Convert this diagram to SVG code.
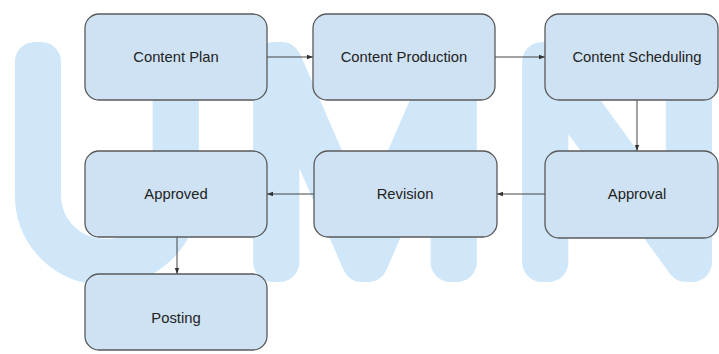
<svg xmlns="http://www.w3.org/2000/svg" width="719" height="354" viewBox="0 0 719 354">
  <defs>
    <marker id="arrow" viewBox="0 0 6 6" refX="6" refY="3" markerWidth="6" markerHeight="6" markerUnits="userSpaceOnUse" orient="auto">
      <path d="M0,0.8 L6,3 L0,5.2 Z" fill="#333"/>
    </marker>
    <style>
      .box { fill: #cfe2f3; stroke: #595959; stroke-width: 1.3; }
      .label { font-family: "Liberation Sans", Arial, sans-serif; font-size: 14.8px; fill: #222; text-anchor: middle; dominant-baseline: central; }
      .edge { fill: none; stroke: #444; stroke-width: 1; marker-end: url(#arrow); }
      .mark { font-family: Inter, "Liberation Sans", sans-serif; font-weight: 100; font-size: 275px; fill: #cfe7f9; stroke: #cfe7f9; stroke-width: 40; stroke-linejoin: round; stroke-linecap: round; }
    </style>
  </defs>

  <rect width="719" height="354" fill="#ffffff"/>

  <!-- background watermark -->
  <text class="mark" x="8 242 511" y="262">UMN</text>

  <g id="connectors">
    <line class="edge" x1="267" y1="57" x2="313" y2="57"/>
    <line class="edge" x1="495" y1="57" x2="545" y2="57"/>
    <line class="edge" x1="637" y1="100" x2="637" y2="151"/>
    <line class="edge" x1="545" y1="194" x2="497" y2="194"/>
    <line class="edge" x1="314" y1="194" x2="267" y2="194"/>
    <line class="edge" x1="177" y1="237" x2="177" y2="274"/>
  </g>

  <g id="content-plan">
    <rect class="box" x="85" y="14" width="182" height="86" rx="14"/>
    <text class="label" x="176" y="57">Content Plan</text>
  </g>
  <g id="content-production">
    <rect class="box" x="313" y="14" width="182" height="86" rx="14"/>
    <text class="label" x="404" y="57">Content Production</text>
  </g>
  <g id="content-scheduling">
    <rect class="box" x="545" y="14" width="173" height="86" rx="14"/>
    <text class="label" x="637" y="57">Content Scheduling</text>
  </g>
  <g id="approved">
    <rect class="box" x="85" y="151" width="182" height="86" rx="14"/>
    <text class="label" x="176" y="194">Approved</text>
  </g>
  <g id="revision">
    <rect class="box" x="314" y="151" width="183" height="86" rx="14"/>
    <text class="label" x="405" y="194">Revision</text>
  </g>
  <g id="approval">
    <rect class="box" x="545" y="151" width="173" height="87" rx="14"/>
    <text class="label" x="637" y="194">Approval</text>
  </g>
  <g id="posting">
    <rect class="box" x="85" y="274" width="182" height="76" rx="14"/>
    <text class="label" x="176" y="318">Posting</text>
  </g>
</svg>
